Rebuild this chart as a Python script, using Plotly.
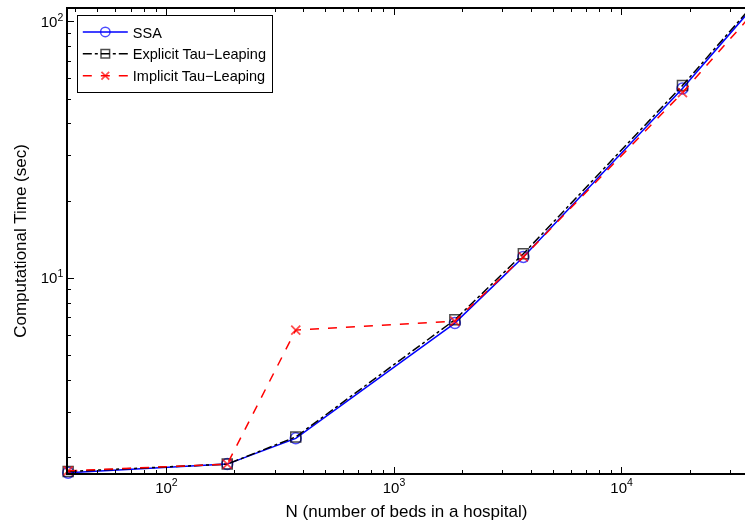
import plotly.graph_objects as go

N = [37, 185, 370, 1850, 3700, 18500, 37000]
ssa = [1.74, 1.88, 2.37, 6.68, 12.1, 55.0, 112]
explicit = [1.76, 1.88, 2.40, 6.88, 12.45, 56.5, 114]
implicit = [1.77, 1.88, 6.27, 6.79, 12.1, 53.0, 106]

x_tickvals = [100, 1000, 10000]
x_ticktext = ["10<sup>2</sup>", "10<sup>3</sup>", "10<sup>4</sup>"]
y_tickvals = [10, 100]
y_ticktext = ["10<sup>1</sup>", "10<sup>2</sup>"]
x_minor = [40, 50, 60, 70, 80, 90, 200, 300, 400, 500, 600, 700, 800, 900,
           2000, 3000, 4000, 5000, 6000, 7000, 8000, 9000, 20000, 30000]
y_minor = [2, 3, 4, 5, 6, 7, 8, 9, 20, 30, 40, 50, 60, 70, 80, 90]

X_RANGE = [1.5675, 4.542]
Y_RANGE = [0.2395, 2.0507]

FONT = "Liberation Sans, Arial, Helvetica, sans-serif"

# hide the marker of the last (off-axis) point, as the reference is cut there
msize = lambda s: [s] * (len(N) - 1) + [0]

fig = go.Figure()
fig.add_trace(go.Scatter(
    x=N, y=ssa, name="SSA", mode="lines+markers", cliponaxis=False,
    line=dict(color="#0000ff", width=1.5, dash="solid"),
    marker=dict(symbol="circle-open", size=msize(11), color="#0000ff", line=dict(width=1.5)),
))
fig.add_trace(go.Scatter(
    x=N, y=explicit, name="Explicit Tau\u2212Leaping", mode="lines+markers", cliponaxis=False,
    line=dict(color="#000000", width=1.5, dash="dashdot"),
    marker=dict(symbol="square-open", size=msize(10), color="#000000", line=dict(width=1.5)),
))
fig.add_trace(go.Scatter(
    x=N, y=implicit, name="Implicit Tau\u2212Leaping", mode="lines+markers", cliponaxis=False,
    line=dict(color="#ff0000", width=1.5, dash="dash"),
    marker=dict(symbol="x-thin-open", size=msize(9), color="#ff0000", line=dict(width=1.8)),
))
# invisible helper traces so that the minor-tick overlay axes are rendered
for xa, ya in (("x2", "y"), ("x", "y2")):
    fig.add_trace(go.Scatter(
        x=N, y=ssa, xaxis=xa, yaxis=ya, mode="markers", opacity=0,
        marker=dict(size=1), showlegend=False, hoverinfo="skip",
    ))

fig.update_layout(
    width=745, height=521,
    margin=dict(l=68, r=0, t=9, b=48),
    paper_bgcolor="white", plot_bgcolor="white",
    font=dict(family=FONT, color="black", size=14),
    showlegend=True,
    legend=dict(
        x=0.013, y=0.987, xanchor="left", yanchor="top",
        bgcolor="white", bordercolor="black", borderwidth=1,
        font=dict(family=FONT, size=14.5),
        itemwidth=45, tracegroupgap=0,
    ),
    xaxis=dict(
        type="log", range=X_RANGE,
        showline=True, linecolor="black", linewidth=1.5, mirror="ticks",
        ticks="inside", ticklen=6, tickcolor="black", tickwidth=1,
        tickvals=x_tickvals, ticktext=x_ticktext,
        tickfont=dict(family=FONT, size=15),
        showgrid=False, zeroline=False,
        title=dict(text="N (number of beds in a hospital)", font=dict(family=FONT, size=17), standoff=10),
    ),
    yaxis=dict(
        type="log", range=Y_RANGE,
        showline=True, linecolor="black", linewidth=1.5, mirror=False,
        ticks="inside", ticklen=6, tickcolor="black", tickwidth=1,
        tickvals=y_tickvals, ticktext=y_ticktext,
        tickfont=dict(family=FONT, size=15),
        showgrid=False, zeroline=False,
        title=dict(text="Computational Time (sec)", font=dict(family=FONT, size=17), standoff=10),
    ),
    # overlay axes carrying the minor ticks
    xaxis2=dict(
        type="log", range=X_RANGE, overlaying="x", anchor="y", side="bottom",
        showline=False, mirror="ticks",
        ticks="inside", ticklen=3, tickcolor="black", tickwidth=1,
        tickvals=x_minor, showticklabels=False, showgrid=False, zeroline=False,
    ),
    yaxis2=dict(
        type="log", range=Y_RANGE, overlaying="y", anchor="x", side="left",
        showline=False, mirror=False,
        ticks="inside", ticklen=3, tickcolor="black", tickwidth=1,
        tickvals=y_minor, showticklabels=False, showgrid=False, zeroline=False,
    ),
)

fig.write_html("out.html")
